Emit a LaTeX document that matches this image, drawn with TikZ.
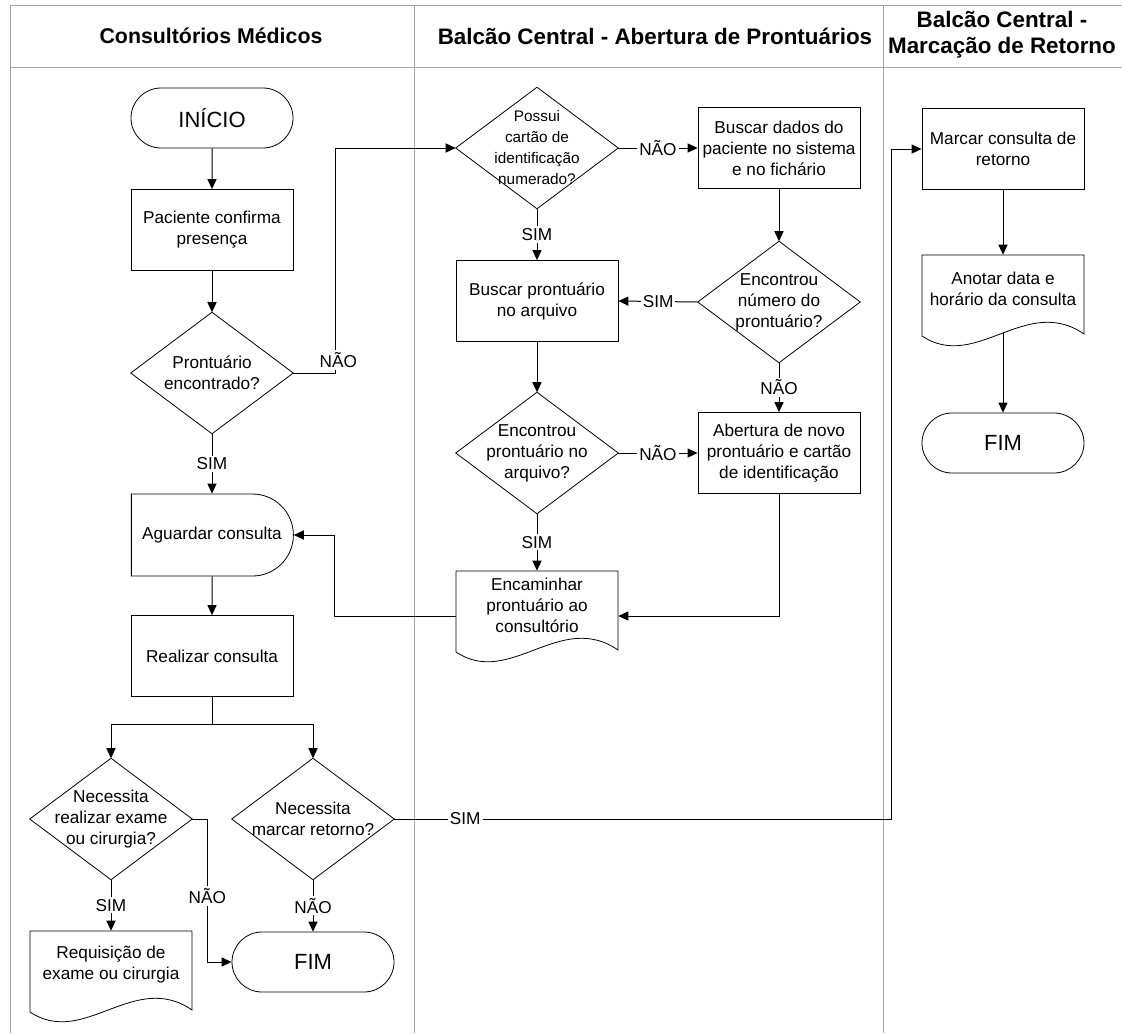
\documentclass[tikz,border=0pt]{standalone}
\usepackage{fontspec}
\setmainfont{Liberation Sans}
\usetikzlibrary{shapes.misc,arrows.meta,calc}

\newcommand{\flowtext}{\fontsize{12.9pt}{15.75pt}\selectfont}
\newcommand{\smallflow}{\fontsize{11.5pt}{15.5pt}\selectfont}
\newcommand{\termtext}{\fontsize{16.5pt}{19pt}\selectfont}
\newcommand{\lanetext}{\fontsize{16pt}{19.5pt}\selectfont\bfseries}
\newcommand{\lanetextwide}{\fontsize{16.8pt}{19.5pt}\selectfont\bfseries}

\begin{document}
\begin{tikzpicture}[x=0.75pt,y=-0.75pt,
  every node/.style={inner sep=0pt,align=center,font=\flowtext},
  outline/.style={draw,line width=0.6pt},
  proc/.style={outline,minimum width=121.5pt,minimum height=60.75pt},
  term/.style={outline,rounded rectangle,minimum width=121.5pt,minimum height=45pt,font=\termtext},
  delaybox/.style={outline,rounded rectangle,rounded rectangle left arc=none,minimum width=121.5pt,minimum height=61.5pt},
  decision/.style={minimum width=121.5pt,minimum height=90.75pt},
  docbox/.style={minimum width=121.5pt,minimum height=51pt},
  lbl/.style={fill=white,inner sep=1.5pt,font=\flowtext},
  conn/.style={line width=0.75pt},
  arr/.style={conn,-{Triangle[length=7.5pt,width=6.8pt]}},
  lane/.style={gray!70,line width=0.75pt},
  lanehead/.style={font=\lanetext},
  laneheadwide/.style={font=\lanetextwide}]

\useasboundingbox (0,0) rectangle (1122,1033);

% swimlane frame
\draw[lane] (10,5) -- (1122,5);
\draw[lane] (10,67) -- (1122,67);
\draw[lane] (10,5) -- (10,1033);
\draw[lane] (414,5) -- (414,1033);
\draw[lane] (883,5) -- (883,1033);

\node[lanehead] (h1) at (211,36) {Consultórios Médicos};
\node[laneheadwide] (h2) at (655,36) {Balcão Central - Abertura de Prontuários};
\node[laneheadwide] (h3) at (1002,35) {Balcão Central -\\Marcação de Retorno};

% lane 1: consultórios
\node[term] (ini) at (212,118) {INÍCIO};
\node[proc] (pac) at (212,230) {Paciente confirma\\presença};
\node[decision] (d1) at (212,373) {Prontuário\\encontrado?};
\node[delaybox] (ag) at (212,535) {Aguardar consulta};
\node[proc] (rc) at (212,656) {Realizar consulta};
\node[decision] (d5) at (111,819) {Necessita\\realizar exame\\ou cirurgia?};
\node[decision] (d6) at (313,819) {Necessita\\marcar retorno?};
\node[docbox] (req) at (111,965) {Requisição de\\exame ou cirurgia};
\node[term] (fim1) at (313,962) {FIM};

% lane 2: abertura de prontuários
\node[decision] (d2) at (537,148) {\smallflow Possui\\\smallflow cartão de\\\smallflow identificação\\\smallflow numerado?};
\node[proc] (bd) at (779,148) {Buscar dados do\\paciente no sistema\\e no fichário};
\node[decision] (d3) at (779,302) {Encontrou\\número do\\prontuário?};
\node[proc] (bp) at (537,301) {Buscar prontuário\\no arquivo};
\node[decision] (d4) at (537,453) {Encontrou\\prontuário no\\arquivo?};
\node[proc] (ab) at (779,453) {Abertura de novo\\prontuário e cartão\\de identificação};
\node[docbox] (enc) at (537,605) {Encaminhar\\prontuário ao\\consultório};

% lane 3: marcação de retorno
\node[proc] (mc) at (1003,149) {Marcar consulta de\\retorno};
\node[docbox] (an) at (1003,289) {Anotar data e\\horário da consulta};
\node[term] (fim2) at (1003,443) {FIM};

% decision outlines
\foreach \n in {d1,d2,d3,d4,d5,d6}
  \draw[outline] (\n.north) -- (\n.east) -- (\n.south) -- (\n.west) -- cycle;

% document outlines with wavy bottom edge
\foreach \n in {enc,an,req}
  \draw[outline] ($(\n.center)+(-81,-34)$) -- ($(\n.center)+(81,-34)$) -- ($(\n.center)+(81,45)$)
    .. controls ($(\n.center)+(23,5)$) and ($(\n.center)+(-27,83)$) .. ($(\n.center)+(-81,47)$) -- cycle;

% connectors, lane 1
\draw[arr] (ini) -- (pac);
\draw[arr] (pac) -- (d1);
\draw[arr] (d1.east) -- ++(42,0) |- (d2.west);
\node[lbl] at ($(d1.east)+(45,-13)$) {NÃO};
\draw[arr] (d1.south) -- (ag.north) node[lbl,pos=0.5] {SIM};
\draw[arr] (ag) -- (rc);
\draw[conn] (rc.south) -- ++(0,28) coordinate (split);
\draw[arr] (split) -| (d5.north);
\draw[arr] (split) -| (d6.north);
\draw[arr] (d5.south) -- (req.north) node[lbl,pos=0.5] {SIM};
\draw[arr] (d5.east) -- ++(15,0) |- (fim1.west);
\node[lbl] at ($(d5.east)+(15,77)$) {NÃO};
\draw[arr] (d6.south) -- (fim1.north) node[lbl,pos=0.5] {NÃO};
\draw[arr] (d6.east) -- ++(497,0) |- (mc.west);
\node[lbl] at ($(d6.east)+(71,0)$) {SIM};

% connectors, lane 2
\draw[arr] (d2.east) -- (bd.west) node[lbl,pos=0.5] {NÃO};
\draw[arr] (d2.south) -- (bp.north) node[lbl,pos=0.5] {SIM};
\draw[arr] (bd.south) -- (d3.north);
\draw[arr] (d3.west) -- (bp.east) node[lbl,pos=0.5] {SIM};
\draw[arr] (d3.south) -- (ab.north) node[lbl,pos=0.5] {NÃO};
\draw[arr] (bp.south) -- (d4.north);
\draw[arr] (d4.east) -- (ab.west) node[lbl,pos=0.5] {NÃO};
\draw[arr] (d4.south) -- (enc.north) node[lbl,pos=0.5] {SIM};
\draw[arr] (ab.south) |- ($(enc.east)+(0,11)$);
\draw[arr] ($(enc.west)+(0,11)$) -- ++(-121,0) |- (ag.east);

% connectors, lane 3
\draw[arr] (mc.south) -- (an.north);
\draw[arr] ($(an.south)+(0,10)$) -- (fim2.north);

\end{tikzpicture}
\end{document}
